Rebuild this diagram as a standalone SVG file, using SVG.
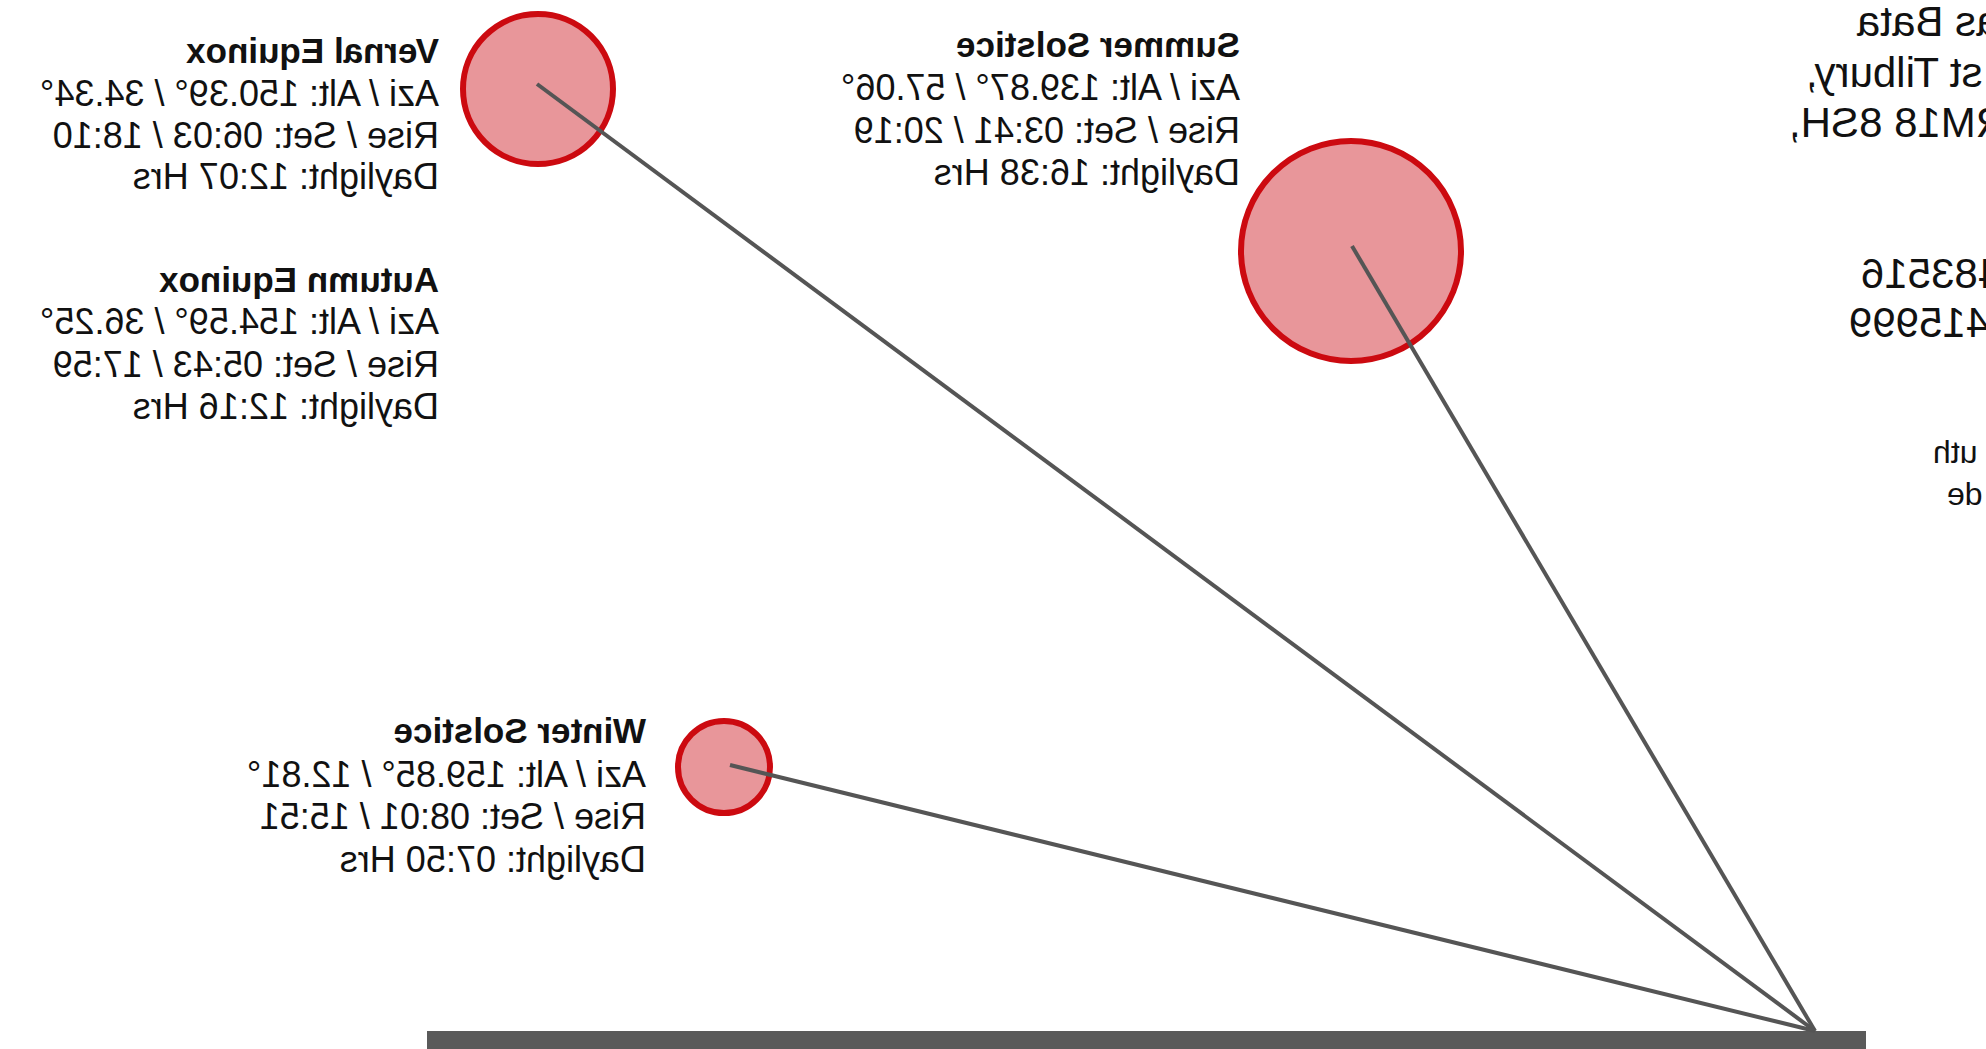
<svg xmlns="http://www.w3.org/2000/svg" width="1986" height="1049" viewBox="0 0 1986 1049">
<style>
text { font-family: "Liberation Sans", Arial, sans-serif; fill: #111; }
.t { font-size: 35px; font-weight: bold; }
.l { font-size: 36px; }
.r { font-size: 42px; }
.s { font-size: 32px; }
.sun { fill: #e8969a; stroke: #cc0a10; stroke-width: 6; }
.ray { stroke: #555555; stroke-width: 4; fill: none; }
</style>
<rect width="1986" height="1049" fill="#ffffff"/>
<g id="ground"><rect x="427" y="1031" width="1439" height="20" fill="#5a5a5a"/></g>
<g id="vernal-equinox">
<circle class="sun" cx="538" cy="89" r="75"/>
<g transform="scale(-1,1)">
<text class="t" x="-439" y="63">Vernal Equinox</text>
<text class="l" x="-439" y="106">Azi / Alt: 150.39° / 34.34°</text>
<text class="l" x="-439" y="148">Rise / Set: 06:03 / 18:10</text>
<text class="l" x="-439" y="189">Daylight: 12:07 Hrs</text>
</g>
</g>
<g id="autumn-equinox">
<g transform="scale(-1,1)">
<text class="t" x="-439" y="292">Autumn Equinox</text>
<text class="l" x="-439" y="334">Azi / Alt: 154.59° / 36.25°</text>
<text class="l" x="-439" y="377">Rise / Set: 05:43 / 17:59</text>
<text class="l" x="-439" y="419">Daylight: 12:16 Hrs</text>
</g>
</g>
<g id="summer-solstice">
<circle class="sun" cx="1351" cy="251" r="110"/>
<g transform="scale(-1,1)">
<text class="t" x="-1240" y="57">Summer Solstice</text>
<text class="l" x="-1240" y="100">Azi / Alt: 139.87° / 57.06°</text>
<text class="l" x="-1240" y="143">Rise / Set: 03:41 / 20:19</text>
<text class="l" x="-1240" y="185">Daylight: 16:38 Hrs</text>
</g>
</g>
<g id="winter-solstice">
<circle class="sun" cx="724" cy="767" r="46"/>
<g transform="scale(-1,1)">
<text class="t" x="-646" y="743">Winter Solstice</text>
<text class="l" x="-646" y="787">Azi / Alt: 159.85° / 12.81°</text>
<text class="l" x="-646" y="829">Rise / Set: 08:01 / 15:51</text>
<text class="l" x="-646" y="872">Daylight: 07:50 Hrs</text>
</g>
</g>
<g id="location">
<g transform="scale(-1,1)">
<text class="r" text-anchor="end" x="-1857" y="36">as Bata</text>
<text class="r" text-anchor="end" x="-1806" y="87">st Tilbury,</text>
<text class="r" text-anchor="end" x="-1789" y="137">RM18 8SH,</text>
<text class="r" text-anchor="end" x="-1861" y="288">483516</text>
<text class="r" text-anchor="end" x="-1849" y="337">415999</text>
<text class="s" text-anchor="end" x="-1933" y="463">uth</text>
<text class="s" text-anchor="end" x="-1947" y="505">de</text>
</g>
</g>
<g id="connectors">
<line class="ray" x1="537" y1="84" x2="1815" y2="1031"/>
<line class="ray" x1="1352" y1="246" x2="1815" y2="1031"/>
<line class="ray" x1="730" y1="765" x2="1815" y2="1031"/>
</g>
</svg>
